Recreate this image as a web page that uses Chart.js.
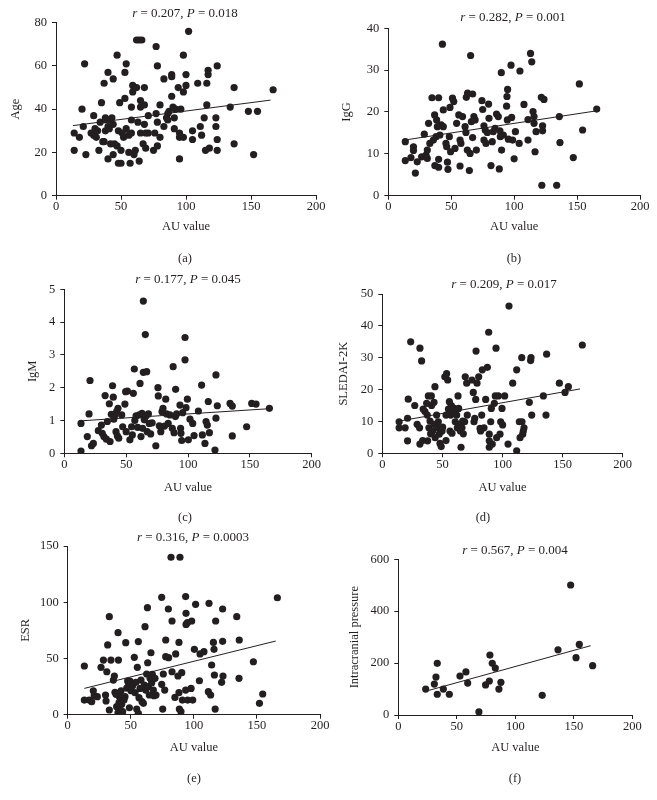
<!DOCTYPE html>
<html>
<head>
<meta charset="utf-8">
<title>AU value correlations</title>
<script src="https://cdn.jsdelivr.net/npm/chart.js@4.4.1/dist/chart.umd.min.js"></script>
<style>
  html, body { margin: 0; padding: 0; background: #fff; }
  #fig { position: relative; width: 657px; height: 800px; font-family: "Liberation Serif", "Times New Roman", serif; color: #231f20; }
  #fig canvas { position: absolute; }
  .stat, .cap { position: absolute; transform: translate(-50%, -50%); white-space: nowrap; will-change: transform; }
  .stat { font-size: 13px; }
  .cap { font-size: 12.5px; }
</style>
</head>
<body>
<div id="fig"></div>
<script>
/* ========== Data ========== */
const xTicks = [0, 50, 100, 150, 200];

// (a) Age
const auAge = [14,14,18,22,20,21,23,27,29,29, 30,31,33,34,35,37,37,38,38,40, 40,40,41,42,43,44,44,44,47,47, 48,48,49,50,50,52,53,53,54,54,
  56,56,57,58,58,59,59,60,61,62, 62,63,64,64,65,65,66,67,68,68, 68,69,71,71,75,76,77,77,78,78, 78,80,80,83,83,85,86,87,89,89,
  89,90,91,91,92,94,95,95,95,96, 98,98,98,100,100,102,105,105,109,111, 112,114,115,116,116,117,117,118,123,123, 124,124,124,134,137,137,148,152,155,167,
  36,38,41,51,58,65,69,32,45,86];
const age = [29,21,27,61,40,32,19,29,37,28, 31,27,21,34,43,25,52,36,30,17, 57,32,31,24,36,54,19,33,65,23, 30,15,43,21,15,27,57,45,61,31,
  28,20,15,41,35,51,48,19,21,72, 50,34,16,72,41,44,72,24,50,33, 42,22,29,37,21,29,69,38,34,60, 23,27,42,54,32,36,38,39,55,56,
  46,41,31,36,40,50,17,29,27,40, 48,65,27,51,56,76,30,26,52,32, 28,36,21,42,52,58,56,22,32,36, 60,26,21,41,24,50,39,19,39,49,
  25,35,35,29,29,29,29,30,24,35];
const ageTicks = [0, 20, 40, 60, 80];
const ageFit = [[13, 32.4], [165, 44.2]];

// (b) IgG
const auIgg = [13.5,13.5,18,20,20,21.5,23,26.5,28.6,30, 31,31,32,33,34.7,35.8,36.8,37,38,38.4, 39,40,40,40,41,42,43,43.7,43.7,45.8,
  46.4,47,47.4,48.5,49,49.5,51,52,53,54.3, 56,57,57,57.7,59,61,61.7,62,62.8,63, 64.4,65,65.4,66,67,67,68,69,70,74.4,
  75,76,76,77,77.6,78.7,79.7,80,81.6,82.6, 83.4,84.8,86,87.4,88.2,88.7,89,89.8,90,91.4, 94,94.3,94.8,94.6,95.4,97.5,98,98.8,100,101,
  104,104.6,107.8,111,111,113,114,115,115.8,115.8, 116.6,117.4,121.6,122.6,122.6,122,123.7,133.8,135.9,136.4, 147,151.8,154.4,165.6];
const igg = [12.9,8.4,9.1,11.7,10.8,5.4,8.1,9.3,14.7,9.7, 8.9,10.9,17.3,12.5,23.4,13.3,19.3,7.2,14.1,18.1, 16.5,23.4,6.8,8.7,14.5,16.9,36.2,20.5,16.5,12.5,
  11.7,8,6.3,14.1,21.1,10.5,23.3,22.5,11.3,17.3, 19.3,13.3,7.1,12.5,18.9,16.5,15.1,23.5,10.9,24.5, 6,10.1,33.5,17.7,24.3,13.9,18.9,18.1,10.9,22.7,
  20.6,13.3,16.7,15.7,12.5,15.1,21.9,18.5,7.2,12.9, 15.3,16.1,19.5,18.9,6.4,15.5,14.1,29.4,10.9,14.5, 21.4,23.7,25.4,18.1,13.5,31.2,18.7,13.3,8.8,15.3,
  12.5,29.8,21.8,13.3,18.2,34,32,20.1,17.3,18.9, 10.5,15.3,23.5,16.7,15.5,2.5,23,2.5,18.9,12.7, 9.1,26.7,15.7,20.7];
const iggTicks = [0, 10, 20, 30, 40];
const iggFit = [[13, 13.3], [166, 20.3]];

// (c) IgM
const auIgm = [13.5,13.5,18.6,20,20.8,22,23.5,27.5,30,30.7, 32,33,34,34.8,36.4,37,38,39,39.6,40, 41,41.8,42.3,42.9,43.4,44,46.4,47.2,49,49.6,
  50,51,53,54.4,55,55.8,56.6,57,58,59.3, 60.6,61.2,62,62.8,63.3,63.9,63.9,64.7,65.5,66, 66.6,67,68,68.7,69.8,71,74,75.7,76,76.8,
  78,79,79.8,81,82,82.7,84,85.4,87.3,88, 88.7,89.8,90,90.8,93.5,94,94.3,94.9,95.7,97.6, 97.6,98.4,99.5,100.3,101.6,103.8,104.9,108.4,111,111.6,
  113.7,114.6,115.6,116.4,117.3,121.8,122.6,122.6,123.7,134, 135.8,135.8,147.4,151.5,155,165.8];
const igm = [0.07,0.91,0.51,1.2,2.22,0.23,0.3,0.69,0.86,0.61, 0.51,1.76,0.43,0.97,1.51,0.36,1.19,2.06,1.71,1.04, 1.17,0.66,1.27,0.53,1.37,0.46,1.17,0.81,1.5,1.88,
  0.66,1.9,0.41,0.81,0.56,1.83,2.57,1.0,1.14,0.79, 1.17,2.13,0.51,1.22,0.76,4.64,2.47,1.02,3.62,1.14, 2.49,0.66,1.2,0.91,0.59,0.93,0.23,2.0,1.75,0.84,
  0.66,1.27,1.37,0.83,1.65,1.2,0.91,1.17,0.76,2.64, 0.63,1.12,1.95,1.2,1.47,0.76,0.61,0.39,1.24,3.53, 2.85,1.39,1.65,0.41,1.04,0.91,0.54,1.29,2.08,0.56,
  0.3,0.97,0.86,1.58,0.63,0.1,1.07,2.39,1.45,1.52, 1.44,0.53,0.81,1.52,1.5,1.37];
const igmTicks = [0, 1, 2, 3, 4, 5];
const igmFit = [[13.5, 0.99], [165.8, 1.36]];

// (d) SLEDAI-2K
const auSledai = [14,14,19,21,21.6,21,23.6,27,29,31, 31.3,31.3,32.7,33.6,34,35.5,36.9,37.4,37.7,38.3, 38.8,39.7,40.2,40.8,41,41.9,43,43.3,43.8,44,
  45.2,45.8,46.6,47.4,48,49,49.7,50.2,52,53, 53,53.5,54.4,55,55.8,56.3,56.9,57.4,58,58.5, 59.4,60,60.7,61.9,62.4,63,63.5,64,65,65.5,
  66.3,66.9,67.4,68.5,69,70.2,70.7,74.6,75.7,76.3, 76.9,77.7,78,78.8,80.2,81.3,81.8,82.7,83.2,84.6, 86,87.4,88.5,89,89,89,90.2,90.7,91.5,93.2,
  94,94.6,95.1,96.5,97.9,98.5,99.6,100.1,101.8,104.6, 105.4,108.5,111.8,111.8,114,114.6,116,116.2,116.8,117.3, 117.9,122.3,123.4,123.7,124.3,134,136.2,136.7,147.3,152,
  154.8,166.4];
const sledai = [9.9,8,8,3.9,17,11,35,15,9.1,8, 2.9,33,29,4,13.9,13.1,15.7,12,3.9,18, 8,10.1,6.1,18,15,7,16,9.1,20.9,4.9,
  12,8,9.9,6,3.1,2.1,7,8.2,24,4, 12,25,23,13.9,16.2,7,12,15,6.3,13.3, 14.2,12.6,9.9,12,8,18,14.1,9.1,7,1.9,
  8,10.1,6.1,9.9,24,22,12,23,19.1,9.9, 11,16.9,32.1,22,24,7.8,7,12,26.2,8, 16.9,27,38,6,3.9,1.9,9.9,14.1,2.9,15.7,
  18,33,4.9,18,6,9.9,14.1,8.9,18,2.9, 46.2,22,26.2,0.8,9.9,4.9,30,9.9,6,7, 8,16,29.1,30,12,18,12,31.1,22,19.1,
  20.9,34];
const sledaiTicks = [0, 10, 20, 30, 40, 50];
const sledaiFit = [[14, 10.1], [164.5, 20.2]];

// (e) ESR
const auEsr = [13.2,13.2,17,19,20.3,21,23.5,26.4,28.3,30, 30.4,31,31.7,33,33,34.3,36.2,37,37.5,38.3, 38.8,39.9,39.9,40.2,40.7,41,41.5,42.3,42.8,43.6,
  44.6,45.4,46,46.8,47.5,48.3,48.9,49.4,50.2,51.5, 52.8,53.4,54.1,54.7,55.2,56,56,56.5,57.3,58.1, 58.9,60,60.8,61.3,61.8,62.6,63.2,63.4,64,64.7,
  65.3,66,66.6,67.1,67.9,68.4,69.2,70,74.5,74.5, 75.3,75.8,76.9,77.7,77.7,79.8,80,81.9,82.7,82.7, 85,85.6,87.4,88.2,88.2,88.5,89,89.8,90.4,90.9,
  93.5,93.5,93.8,93.8,94.9,95.1,97.8,98.3,99.1,100.4, 101.4,104.4,104.9,108,111.5,112,113.3,114.1,115.5,116, 116.3,116.9,117.3,122,122.8,122.8,123.1,134,136,135.8,
  147.2,152,154.6,166.2];
const esr = [43.3,13,13,11.6,21.3,16.9,16,42.1,48.6,17.5, 12.2,38.2,62,4.2,87.2,48.6,30.8,34.4,19.9,18.1, 7.1,72.9,1.8,48.6,10.7,16,4.7,21.3,9.2,2.7,
  13,16,64,23.7,29.9,25.8,6.2,29.9,21.3,25.8, 51,19.6,28.8,5,42.1,65,1.2,15.1,23.4,30.8, 11.6,10.1,26.4,78.3,21.9,36.2,95.2,46.2,24.9,17.5,
  32.3,55.1,28.5,35.9,21.9,16.9,32.3,17.5,104.4,27, 5,36.2,21.9,66.4,51.6,94,50.7,140,38.2,83.3, 15.4,54,34.4,64.3,19.6,5,140,2.7,37.4,13,
  105,21.9,90.1,80.3,81.8,13,23.4,83.3,13,58.1, 98.1,30.2,54,56,20.5,99,17.5,44.2,64.3,58.1, 35.3,5,83.3,28.8,94,65.2,34.4,87.2,66.4,32.3,
  47.1,10.1,18.4,104];
const esrTicks = [0, 50, 100, 150];
const esrFit = [[13.2, 23.4], [164.9, 65.5]];

// (f) Intracranial pressure
const auIcp = [23.4,30.8,32.2,33.3,33.3,38.5,43.6,52.7,57.8,59.3,68.9,74.6,77.8,78.3,80.3,82.9,86,87.7,123,136.5,147.3,151.9,154.7,166.1];
const icp = [100,119,146,199,80,100,80,150,166,123,12,116,131,231,199,181,100,126,76,251,501,221,272,190];
const icpTicks = [0, 200, 400, 600];
const icpFit = [[24.2, 92.5], [164.4, 267]];

/* ========== Layout of the six panels ========== */
const panels = [
  { box: [0, 0, 330, 245], area: [56, 22.7, 316, 195.7], yTitleX: 16, xTitleY: 227,
    yTitle: 'Age', xs: auAge, ys: age, yTicks: ageTicks, fit: ageFit,
    stat: '<i>r</i> = 0.207, <i>P</i> = 0.018', statPos: [185, 12.7], cap: '(a)', capPos: [185, 258] },
  { box: [330, 0, 327, 245], area: [388.3, 28.3, 640, 195.7], yTitleX: 346.7, xTitleY: 227,
    yTitle: 'IgG', xs: auIgg, ys: igg, yTicks: iggTicks, fit: iggFit,
    stat: '<i>r</i> = 0.282, <i>P</i> = 0.001', statPos: [513, 16.5], cap: '(b)', capPos: [514, 258] },
  { box: [0, 262, 330, 245], area: [64.3, 289.3, 311.7, 453.3], yTitleX: 32.7, xTitleY: 487.7,
    yTitle: 'IgM', xs: auIgm, ys: igm, yTicks: igmTicks, fit: igmFit,
    stat: '<i>r</i> = 0.177, <i>P</i> = 0.045', statPos: [187.5, 279], cap: '(c)', capPos: [185, 516.7] },
  { box: [330, 262, 327, 245], area: [382.3, 294, 622.7, 453.3], yTitleX: 343.3, xTitleY: 487.7,
    yTitle: 'SLEDAI-2K', xs: auSledai, ys: sledai, yTicks: sledaiTicks, fit: sledaiFit,
    stat: '<i>r</i> = 0.209, <i>P</i> = 0.017', statPos: [504, 284.3], cap: '(d)', capPos: [483, 516.7] },
  { box: [0, 525, 330, 245], area: [67.7, 546, 320, 714.7], yTitleX: 26, xTitleY: 747.7,
    yTitle: 'ESR', xs: auEsr, ys: esr, yTicks: esrTicks, fit: esrFit,
    stat: '<i>r</i> = 0.316, <i>P</i> = 0.0003', statPos: [193, 536.7], cap: '(e)', capPos: [194, 778.3] },
  { box: [330, 525, 327, 245], area: [398.3, 559.3, 632.3, 715], yTitleX: 355, xTitleY: 748,
    yTitle: 'Intracranial pressure', xs: auIcp, ys: icp, yTicks: icpTicks, fit: icpFit,
    stat: '<i>r</i> = 0.567, <i>P</i> = 0.004', statPos: [515, 550], cap: '(f)', capPos: [515, 778] }
];

/* ========== Drawing ========== */
const ink = '#231f20';
const serif = '"Liberation Serif", "Times New Roman", serif';
const fig = document.getElementById('fig');
const titleFont = { family: serif, size: 12.5, lineHeight: 1.2 };   // line height 15px
const tickFont = { family: serif, size: 12.5 };

function addText(cls, html, pos) {
  const d = document.createElement('div');
  d.className = cls;
  d.innerHTML = html;
  d.style.left = pos[0] + 'px';
  d.style.top = pos[1] + 'px';
  fig.appendChild(d);
}

function makePanel(p) {
  const [L, T, W, H] = p.box;
  const [x0, y0, x1, y1] = p.area;
  const cv = document.createElement('canvas');
  cv.width = W; cv.height = H;
  cv.style.left = L + 'px'; cv.style.top = T + 'px';
  cv.style.width = W + 'px'; cv.style.height = H + 'px';
  fig.appendChild(cv);

  const xBoxBottom = p.xTitleY + 7.5;
  const axisLine = { display: true, color: ink, width: 1 };
  const tickMarks = { drawOnChartArea: false, drawTicks: true, tickLength: 4, color: ink };

  new Chart(cv, {
    type: 'scatter',
    data: {
      datasets: [
        { data: p.xs.map((x, i) => ({ x, y: p.ys[i] })),
          backgroundColor: ink, borderWidth: 0, pointRadius: 3.6, pointHoverRadius: 3.6 },
        { data: p.fit.map(([x, y]) => ({ x, y })), showLine: true,
          borderColor: ink, borderWidth: 1, pointRadius: 0, fill: false }
      ]
    },
    options: {
      responsive: false,
      animation: false,
      events: [],
      layout: { padding: { left: 0, top: y0 - T, right: L + W - x1, bottom: T + H - xBoxBottom } },
      plugins: { legend: { display: false }, tooltip: { enabled: false } },
      scales: {
        x: {
          type: 'linear', min: xTicks[0], max: xTicks[xTicks.length - 1],
          border: axisLine, grid: tickMarks,
          ticks: { font: tickFont, color: ink, padding: 0, maxRotation: 0 },
          afterBuildTicks: s => { s.ticks = xTicks.map(v => ({ value: v })); },
          afterFit: s => { s.height = xBoxBottom - y1; },
          title: { display: true, text: 'AU value', font: titleFont, color: ink, padding: 0 }
        },
        y: {
          type: 'linear', min: p.yTicks[0], max: p.yTicks[p.yTicks.length - 1],
          border: axisLine, grid: tickMarks,
          ticks: { font: tickFont, color: ink, padding: 5 },
          afterBuildTicks: s => { s.ticks = p.yTicks.map(v => ({ value: v })); },
          afterFit: s => { s.width = x0 - L; },
          title: { display: true, text: p.yTitle, font: titleFont, color: ink,
                   padding: { top: p.yTitleX - L - 7.5, bottom: 0 } }
        }
      }
    }
  });

  addText('stat', p.stat, p.statPos);
  addText('cap', p.cap, p.capPos);
}

panels.forEach(makePanel);
</script>
</body>
</html>
